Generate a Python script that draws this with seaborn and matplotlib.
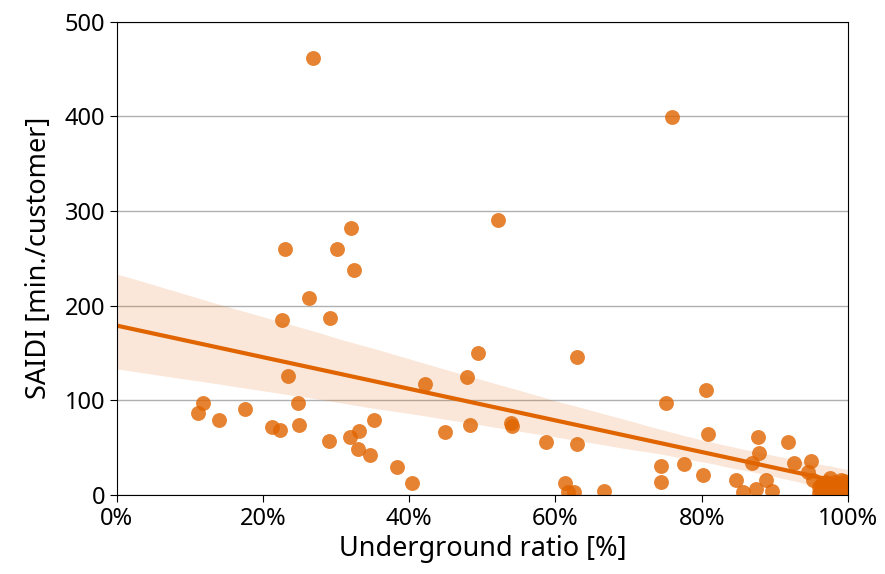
import matplotlib
matplotlib.use("Agg")
import matplotlib.pyplot as plt
from matplotlib.ticker import PercentFormatter
import seaborn as sns
import pandas as pd

# ====================
# DATOS
# ====================
underground_ratio = [
    0.268, 0.759, 0.521, 0.321, 0.230, 0.301, 0.324, 0.263, 0.226, 0.291,
    0.494, 0.629, 0.234, 0.479, 0.421, 0.806, 0.751, 0.118, 0.111, 0.140,
    0.175, 0.212, 0.223, 0.249, 0.248, 0.290, 0.319, 0.331, 0.330, 0.346,
    0.352, 0.383, 0.404, 0.449, 0.483, 0.539, 0.540, 0.587, 0.629, 0.613,
    0.617, 0.625, 0.666, 0.744, 0.744, 0.776, 0.802, 0.809, 0.847, 0.856,
    0.869, 0.878, 0.877, 0.874, 0.888, 0.896, 0.918, 0.926, 0.949, 0.945,
    0.952, 0.960, 0.965, 0.970, 0.975, 0.980, 0.985, 0.990, 0.990, 0.995,
    1.000, 0.975, 0.960, 0.962, 0.968, 0.972, 0.978, 0.982, 0.988, 0.992,
    0.997, 1.000, 0.965, 0.985, 0.995, 0.970, 0.980, 0.990,
]
saidi = [
    462, 399, 290, 282, 260, 260, 238, 208, 185, 187,
    150, 146, 126, 124, 117, 111, 97, 97, 86, 79,
    91, 72, 69, 74, 97, 57, 61, 67, 48, 42,
    79, 29, 12, 66, 74, 76, 73, 56, 54, 12,
    3, 3, 4, 30, 14, 33, 21, 64, 16, 3,
    34, 44, 61, 6, 16, 4, 56, 34, 36, 24,
    16, 8, 3, 14, 5, 10, 2, 16, 7, 12,
    4, 18, 2, 4, 9, 1, 6, 13, 3, 8,
    2, 10, 11, 5, 15, 7, 0, 3,
]

df = pd.DataFrame({"ratio": underground_ratio, "saidi": saidi})

color = "#e06400"
plt.rcParams["font.family"] = ["Noto Sans", "DejaVu Sans"]

# ====================
# FIGURA
# ====================
fig, ax = plt.subplots(figsize=(8.85, 5.74), dpi=100)
plt.subplots_adjust(left=0.132, right=0.958, top=0.962, bottom=0.138)

ax.set_xlim(0, 1)
ax.set_ylim(0, 500)
ax.grid(axis="y", color="#b0b0b0", linewidth=1)
ax.set_axisbelow(True)

sns.regplot(data=df, x="ratio", y="saidi", ax=ax, color=color, truncate=False, seed=0,
            scatter_kws={"s": 115, "linewidths": 0, "alpha": 0.8},
            line_kws={"lw": 3})

ax.set_xlim(0, 1)
ax.set_ylim(0, 500)
ax.xaxis.set_major_formatter(PercentFormatter(1.0, decimals=0))
ax.set_xticks([0, 0.2, 0.4, 0.6, 0.8, 1.0])
ax.set_yticks([0, 100, 200, 300, 400, 500])
ax.tick_params(labelsize=17, length=5)
ax.set_xlabel("Underground ratio [%]", fontsize=19.5, labelpad=3)
ax.set_ylabel("SAIDI [min./customer]", fontsize=19.5, labelpad=8)

plt.savefig("out.png", dpi=100)
